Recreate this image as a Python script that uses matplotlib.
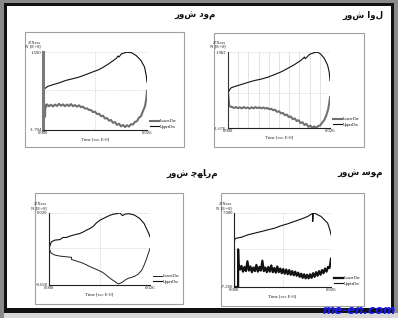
import matplotlib
matplotlib.use("Agg")
import matplotlib.pyplot as plt
from matplotlib.patches import Rectangle

W, H = 398, 318

# ---------------- titles (logical Persian order) ----------------
titles = ["روش دوم", "روش اول", "روش چهارم", "روش سوم"]

FORMS = {
    'ر': ('\uFEAD', '\uFEAE', None, None),
    'و': ('\uFEED', '\uFEEE', None, None),
    'ش': ('\uFEB5', '\uFEB6', '\uFEB7', '\uFEB8'),
    'د': ('\uFEA9', '\uFEAA', None, None),
    'م': ('\uFEE1', '\uFEE2', '\uFEE3', '\uFEE4'),
    'ا': ('\uFE8D', '\uFE8E', None, None),
    'ل': ('\uFEDD', '\uFEDE', '\uFEDF', '\uFEE0'),
    'س': ('\uFEB1', '\uFEB2', '\uFEB3', '\uFEB4'),
    'چ': ('\uFB7A', '\uFB7B', '\uFB7C', '\uFB7D'),
    'ه': ('\uFEE9', '\uFEEA', '\uFEEB', '\uFEEC'),
}


def shape(s):
    """Contextual (joined) letter forms, kept in logical order."""
    out = []
    for i, c in enumerate(s):
        if c not in FORMS:
            out.append(c)
            continue
        iso, fin, ini, med = FORMS[c]
        prev = s[i - 1] if i > 0 else ''
        nxt = s[i + 1] if i + 1 < len(s) else ''
        jp = prev in FORMS and FORMS[prev][2] is not None
        jn = ini is not None and nxt in FORMS
        if jp and jn:
            out.append(med)
        elif jp:
            out.append(fin)
        elif jn:
            out.append(ini)
        else:
            out.append(iso)
    return ''.join(out)


# ---------------- data ----------------
x_tick_labels = ["0.000", "0.026"]
x_max = 0.026
legend_labels = ["LowerDw", "UpperDw"]
header = "Z/Xsss\nN [E+0]"
xlabel = "Time [sec E-0]"

# Panel 1 (top-left)
p1_ylim = (-1.704, 1.590)
p1_ylabels = ["-1.704", "1.590"]
p1_up_t = [0, 0.0004, 0.0012, 0.0025, 0.0041, 0.0057, 0.0074, 0.0090, 0.0106, 0.0123,
           0.0139, 0.0151, 0.0164, 0.0176, 0.0184, 0.0187, 0.0190, 0.0196, 0.0209, 0.0221,
           0.0233, 0.0245, 0.0254, 0.0258, 0.0260]
p1_up_y = [0, 0.04, 0.14, 0.21, 0.29, 0.39, 0.46, 0.53, 0.63, 0.74,
           0.84, 0.95, 1.09, 1.23, 1.33, 1.42, 1.38, 1.51, 1.58, 1.56,
           1.44, 1.23, 0.95, 0.60, 0.32]
p1_lo_t = [0, 0.0001, 0.0003, 0.0005, 0.0006, 0.0008, 0.0010, 0.0015, 0.0020, 0.0025,
           0.0030, 0.0035, 0.0040, 0.0045, 0.0050, 0.0055, 0.0060, 0.0065, 0.0070, 0.0075,
           0.0080, 0.0085, 0.0090, 0.0095, 0.0100, 0.0105, 0.0110, 0.0115, 0.0120, 0.0125,
           0.0130, 0.0135, 0.0140, 0.0145, 0.0150, 0.0155, 0.0160, 0.0165, 0.0170, 0.0175,
           0.0180, 0.0185, 0.0190, 0.0195, 0.0200, 0.0205, 0.0210, 0.0215, 0.0220, 0.0225,
           0.0230, 0.0235, 0.0240, 0.0245, 0.0250, 0.0255, 0.0258, 0.0260]
p1_lo_y = [0, 0, -0.70, -1.15, -0.65, -0.72, -0.62, -0.70, -0.64, -0.71,
           -0.63, -0.69, -0.60, -0.68, -0.62, -0.70, -0.63, -0.69, -0.61, -0.70,
           -0.65, -0.72, -0.66, -0.74, -0.72, -0.80, -0.79, -0.86, -0.86, -0.95,
           -0.93, -1.03, -1.02, -1.12, -1.10, -1.22, -1.20, -1.31, -1.28, -1.40,
           -1.37, -1.49, -1.44, -1.55, -1.49, -1.58, -1.50, -1.56, -1.46, -1.47,
           -1.36, -1.33, -1.18, -1.12, -0.90, -0.70, -0.40, -0.05]

# Panel 2 (top-right)
p2_ylim = (-1.676, 1.982)
p2_ylabels = ["-1.676", "1.982"]
p2_up_t = [0, 0.0004, 0.0008, 0.0017, 0.0034, 0.0051, 0.0068, 0.0085, 0.0102, 0.0119,
           0.0136, 0.0152, 0.0169, 0.0186, 0.0195, 0.0197, 0.0208, 0.0220, 0.0229, 0.0237,
           0.0246, 0.0254, 0.0258, 0.0260]
p2_up_y = [0, 0.16, 0.26, 0.32, 0.42, 0.52, 0.61, 0.68, 0.77, 0.90,
           1.03, 1.19, 1.37, 1.58, 1.74, 1.66, 1.87, 1.95, 1.97, 1.87,
           1.66, 1.34, 1.01, 0.61]
p2_lo_t = [0, 0.0002, 0.0003, 0.0005, 0.0008, 0.0010, 0.0015, 0.0020, 0.0025, 0.0030,
           0.0035, 0.0040, 0.0045, 0.0050, 0.0055, 0.0060, 0.0065, 0.0070, 0.0075, 0.0080,
           0.0085, 0.0090, 0.0095, 0.0100, 0.0105, 0.0110, 0.0115, 0.0120, 0.0125, 0.0130,
           0.0135, 0.0140, 0.0145, 0.0150, 0.0155, 0.0160, 0.0165, 0.0170, 0.0175, 0.0180,
           0.0185, 0.0190, 0.0195, 0.0200, 0.0205, 0.0210, 0.0215, 0.0220, 0.0225, 0.0230,
           0.0235, 0.0240, 0.0245, 0.0250, 0.0255, 0.0258, 0.0260]
p2_lo_y = [0, -0.35, -0.60, -0.64, -0.66, -0.66, -0.71, -0.67, -0.72, -0.68,
           -0.73, -0.67, -0.72, -0.69, -0.74, -0.68, -0.73, -0.67, -0.72, -0.68,
           -0.73, -0.69, -0.74, -0.71, -0.77, -0.75, -0.82, -0.80, -0.90, -0.87,
           -0.97, -0.95, -1.06, -1.03, -1.15, -1.12, -1.25, -1.21, -1.34, -1.30,
           -1.44, -1.40, -1.53, -1.48, -1.62, -1.56, -1.67, -1.60, -1.67, -1.58,
           -1.55, -1.42, -1.30, -1.10, -0.80, -0.50, -0.19]

# Panel 3 (bottom-left)
p3_ylim = (-0.0206, 0.020)
p3_ylabels = ["-0.020", "0.020"]
p3_up_t = [0, 0.0003, 0.0006, 0.0015, 0.0028, 0.0036, 0.0045, 0.0053, 0.0062, 0.0071,
           0.0079, 0.0088, 0.0096, 0.0105, 0.0114, 0.0122, 0.0131, 0.0139, 0.0148, 0.0157,
           0.0165, 0.0174, 0.0183, 0.0189, 0.0195, 0.0204, 0.0213, 0.0221, 0.0234, 0.0245,
           0.0251, 0.0257, 0.0260]
p3_up_y = [0, 0.0019, 0.0037, 0.0047, 0.0050, 0.0062, 0.0062, 0.0069, 0.0075, 0.0080,
           0.0084, 0.0093, 0.0103, 0.0112, 0.0125, 0.0144, 0.0159, 0.0168, 0.0178, 0.0187,
           0.0193, 0.0196, 0.0200, 0.0185, 0.0193, 0.0196, 0.0193, 0.0187, 0.0168, 0.0140,
           0.0112, 0.0084, 0.0065]
p3_lo_t = [0, 0.0006, 0.0015, 0.0028, 0.0045, 0.0058, 0.0058, 0.0062, 0.0071, 0.0084,
           0.0097, 0.0110, 0.0122, 0.0135, 0.0144, 0.0152, 0.0161, 0.0170, 0.0178, 0.0187,
           0.0196, 0.0204, 0.0213, 0.0222, 0.0230, 0.0239, 0.0245, 0.0250, 0.0260]
p3_lo_y = [0, -0.0028, -0.0037, -0.0043, -0.0047, -0.0050, -0.0062, -0.0065, -0.0071, -0.0080,
           -0.0093, -0.0107, -0.0118, -0.0131, -0.0144, -0.0159, -0.0174, -0.0187, -0.0200, -0.0193,
           -0.0178, -0.0168, -0.0163, -0.0155, -0.0144, -0.0122, -0.0093, -0.0065, 0]

# Panel 4 (bottom-right)
p4_ylim = (-7.26, 7.0)
p4_ylabels = ["-7.260", "7.000"]
p4_up_t = [0, 0.0002, 0.0006, 0.0020, 0.0037, 0.0055, 0.0073, 0.0091, 0.0109, 0.0126,
           0.0144, 0.0162, 0.0180, 0.0198, 0.0207, 0.0211, 0.0211, 0.0212, 0.0215, 0.0224,
           0.0233, 0.0242, 0.0251, 0.0257, 0.0260]
p4_up_y = [0.52, 1.94, 2.14, 2.33, 2.79, 3.11, 3.43, 3.76, 4.08, 4.54,
           4.92, 5.38, 5.83, 6.35, 6.80, 6.87, 5.38, 6.90, 7.00, 6.67,
           6.35, 5.70, 5.05, 3.76, 2.79]
p4_lo_t = [0, 0, 0.0011, 0.0011, 0.0012, 0.0016, 0.0020, 0.0024, 0.0028, 0.0032,
           0.0036, 0.0040, 0.0044, 0.0048, 0.0052, 0.0056, 0.0060, 0.0064, 0.0068, 0.0072,
           0.0076, 0.0080, 0.0084, 0.0088, 0.0092, 0.0096, 0.0100, 0.0104, 0.0108, 0.0112,
           0.0116, 0.0120, 0.0124, 0.0128, 0.0132, 0.0136, 0.0140, 0.0144, 0.0148, 0.0152,
           0.0156, 0.0160, 0.0164, 0.0168, 0.0172, 0.0176, 0.0180, 0.0184, 0.0188, 0.0192,
           0.0196, 0.0200, 0.0204, 0.0208, 0.0212, 0.0216, 0.0220, 0.0224, 0.0228, 0.0232,
           0.0236, 0.0240, 0.0244, 0.0248, 0.0252, 0.0256, 0.0258, 0.0260]
p4_lo_y = [0, -7.26, -7.26, 0, -2.72, -3.9, -3.2, -4.3, -3.4, -4.2,
           -2.3, -4.1, -3.3, -4.4, -3.5, -4.2, -3.0, -4.3, -3.4, -4.1,
           -2.2, -4.2, -3.5, -4.4, -3.4, -4.3, -3.1, -4.4, -3.6, -4.5,
           -3.3, -4.4, -3.7, -4.6, -3.8, -4.7, -3.9, -4.8, -4.0, -4.9,
           -4.2, -5.0, -4.3, -5.1, -4.5, -5.3, -4.7, -5.5, -4.8, -5.6,
           -4.9, -5.6, -4.8, -5.5, -4.6, -5.3, -4.4, -5.1, -4.2, -4.9,
           -4.0, -4.6, -3.7, -4.3, -3.4, -3.6, -2.8, -1.8]

# ---------------- figure ----------------
fig = plt.figure(figsize=(W / 100, H / 100), dpi=100)
fig.patch.set_facecolor('#8a8a8a')

bg = fig.add_axes([0, 0, 1, 1])
bg.set_xlim(0, W)
bg.set_ylim(H, 0)
bg.axis('off')
bg.add_patch(Rectangle((4, 3), 390, 310, facecolor='#111111', edgecolor='none'))
bg.add_patch(Rectangle((7, 6), 384, 302, facecolor='white', edgecolor='none'))
bg.add_patch(Rectangle((4, 313), 394, 5, facecolor='#d8d8d8', edgecolor='none'))


def fbox(x0, y0, x1, y1):
    return [x0 / W, 1 - y1 / H, (x1 - x0) / W, (y1 - y0) / H]


panels = [
    dict(box=(25, 32, 184, 147), plot=(43, 52, 147, 130), title=(216, 15),
         ylim=p1_ylim, ylab=p1_ylabels, up=(p1_up_t, p1_up_y), lo=(p1_lo_t, p1_lo_y),
         lo_col='#707070', lo_lw=1.5, yax_col='#7a7a7a', yax_lw=2.2, vgrid=False),
    dict(box=(214, 33, 364, 147), plot=(228, 52, 330, 128), title=(383, 15),
         ylim=p2_ylim, ylab=p2_ylabels, up=(p2_up_t, p2_up_y), lo=(p2_lo_t, p2_lo_y),
         lo_col='#707070', lo_lw=1.5, yax_col='#333333', yax_lw=0.8, vgrid=True),
    dict(box=(35, 193, 183, 304), plot=(49, 213, 150, 285), title=(218, 173),
         ylim=p3_ylim, ylab=p3_ylabels, up=(p3_up_t, p3_up_y), lo=(p3_lo_t, p3_lo_y),
         lo_col='#222222', lo_lw=0.7, yax_col='#222222', yax_lw=0.8, vgrid=False),
    dict(box=(221, 193, 364, 306), plot=(234, 213, 331, 287), title=(383, 173),
         ylim=p4_ylim, ylab=p4_ylabels, up=(p4_up_t, p4_up_y), lo=(p4_lo_t, p4_lo_y),
         lo_col='#111111', lo_lw=1.6, yax_col='#222222', yax_lw=0.8, vgrid=False),
]

lab_font = dict(family='Liberation Serif', fontsize=3.4, color='#222222')

for i, p in enumerate(panels):
    x0, y0, x1, y1 = p['box']
    bg.add_patch(Rectangle((x0, y0), x1 - x0, y1 - y0, facecolor='white',
                           edgecolor='#a0a0a0', lw=0.8))
    bg.text(p['title'][0], p['title'][1], shape(titles[i]), ha='right', va='center',
            fontsize=6.2, fontweight='bold', family=['DejaVu Sans'], color='#111111')

    ax = fig.add_axes(fbox(*p['plot']))
    ax.patch.set_alpha(0)
    ax.set_xlim(0, x_max)
    ax.set_ylim(*p['ylim'])
    for s in ['top', 'right']:
        ax.spines[s].set_visible(False)
    ax.spines['bottom'].set_color('#222222')
    ax.spines['bottom'].set_linewidth(0.8)
    ax.spines['left'].set_color(p['yax_col'])
    ax.spines['left'].set_linewidth(p['yax_lw'])

    gkw = dict(color='#c8c8c8', lw=0.5, ls=(0, (1, 1)), zorder=0)
    ax.axhline(p['ylim'][1], **gkw)
    ax.axhline(0, **gkw)
    if p['vgrid']:
        for k in range(1, 10):
            ax.axvline(x_max * k / 10, color='#d8d8d8', lw=0.5, zorder=0)
    else:
        ax.axvline(x_max / 2, **gkw)

    lu, = ax.plot(p['up'][0], p['up'][1], color='#111111', lw=0.8, label=legend_labels[1])
    ll, = ax.plot(p['lo'][0], p['lo'][1], color=p['lo_col'], lw=p['lo_lw'], label=legend_labels[0])

    ax.set_xticks([0, x_max])
    ax.set_xticklabels(x_tick_labels, **lab_font)
    ax.set_yticks(list(p['ylim']))
    ax.set_yticklabels(p['ylab'], **lab_font)
    ax.tick_params(length=0, pad=1)
    ax.set_xlabel(xlabel, labelpad=1.5, **lab_font)
    ax.text(-0.02, 1.04, header, transform=ax.transAxes, ha='right', va='bottom',
            linespacing=0.9, **lab_font)
    ax.legend(handles=[ll, lu], loc='lower left', bbox_to_anchor=(1.0, -0.02),
              frameon=False, prop=dict(family='Liberation Serif', size=3.0),
              handlelength=2.2, handletextpad=0.3, labelspacing=0.3, borderpad=0.2)

bg.text(396, 311, "me-en.com", ha='right', va='center', fontsize=8.5,
        fontweight='bold', style='italic', color='#1a1af0', family='DejaVu Sans')

fig.savefig('out.png', dpi=100, facecolor=fig.get_facecolor())
